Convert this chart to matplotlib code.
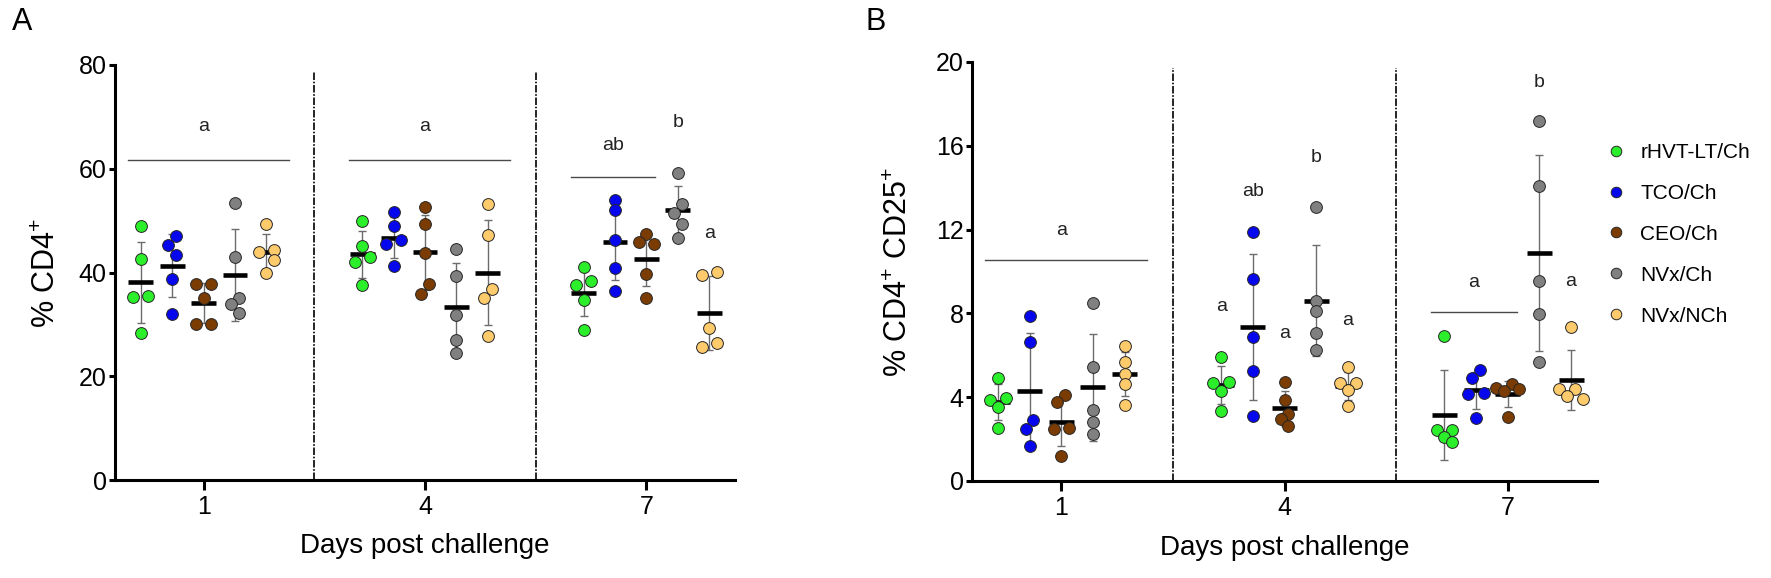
import numpy as np
import matplotlib
matplotlib.use("Agg")
import matplotlib.pyplot as plt
from matplotlib.lines import Line2D

plt.rcParams['font.family'] = ['Liberation Sans', 'DejaVu Sans']
plt.rcParams['mathtext.fontset'] = 'custom'
plt.rcParams['mathtext.rm'] = 'Liberation Sans'
plt.rcParams['mathtext.it'] = 'Liberation Sans:italic'
plt.rcParams['mathtext.bf'] = 'Liberation Sans:bold'
plt.rcParams['mathtext.default'] = 'regular'

# ---------------- data ----------------
days = ["1", "4", "7"]
groups = ["rHVT-LT/Ch", "TCO/Ch", "CEO/Ch", "NVx/Ch", "NVx/NCh"]
colors = ["#2bef2b", "#0707ee", "#7a3c02", "#808080", "#fdca6c"]

# Panel A: % CD4+  (per group, per day: 5 birds)
cd4_rhvt = [[48.9, 42.6, 35.5, 35.2, 28.4], [49.9, 45.2, 42.9, 42.1, 37.5], [41.0, 38.3, 37.6, 34.7, 29.0]]
cd4_tco  = [[47.1, 45.3, 43.4, 38.8, 32.0], [51.7, 49.0, 46.3, 45.5, 41.2], [53.9, 52.0, 46.3, 40.9, 36.5]]
cd4_ceo  = [[37.8, 37.8, 35.0, 30.0, 30.0], [52.6, 49.4, 43.7, 37.7, 35.9], [47.4, 45.8, 45.4, 39.7, 35.0]]
cd4_nvx  = [[53.4, 43.0, 35.0, 33.9, 32.1], [44.5, 39.4, 31.8, 27.0, 24.5], [59.1, 53.3, 51.5, 49.3, 46.7]]
cd4_nch  = [[49.4, 44.4, 43.9, 42.5, 40.0], [53.2, 47.2, 36.8, 35.0, 27.8], [40.1, 39.5, 29.3, 26.5, 25.6]]

# Panel B: % CD4+ CD25+
cd25_rhvt = [[4.90, 3.94, 3.86, 3.54, 2.51], [5.90, 4.73, 4.68, 4.29, 3.35], [6.94, 2.43, 2.43, 2.11, 1.84]]
cd25_tco  = [[7.86, 6.63, 2.90, 2.46, 1.67], [11.87, 9.62, 6.89, 5.24, 3.11], [5.32, 4.92, 4.22, 4.17, 3.00]]
cd25_ceo  = [[4.10, 3.78, 2.51, 2.46, 1.20], [4.73, 3.86, 3.22, 2.94, 2.63], [4.65, 4.44, 4.37, 4.30, 3.06]]
cd25_nvx  = [[8.48, 5.44, 3.38, 2.83, 2.22], [13.06, 8.57, 8.10, 7.08, 6.24], [17.16, 14.06, 9.54, 7.97, 5.68]]
cd25_nch  = [[6.43, 5.68, 5.13, 4.62, 3.65], [5.44, 4.70, 4.70, 4.32, 3.59], [7.33, 4.41, 4.41, 4.05, 3.90]]

# significance letters: spanning lines (day, first group, last group, line y, text y, label)
A_spans = [(0, 0, 4, 61.7, 68.1, "a"), (1, 0, 4, 61.7, 68.1, "a"), (2, 0, 2, 58.5, 64.4, "ab")]
A_single = [(2, 3, 69.0, "b"), (2, 4, 47.5, "a")]
B_spans = [(0, 0, 4, 10.56, 11.95, "a"), (2, 0, 2, 8.08, 9.46, "a")]
B_single = [(1, 0, 8.35, "a"), (1, 1, 13.81, "ab"), (1, 2, 7.03, "a"), (1, 3, 15.46, "b"),
            (1, 4, 7.67, "a"), (2, 3, 19.03, "b"), (2, 4, 9.54, "a")]

# ---------------- figure ----------------
W, H = 1771, 578
fig = plt.figure(figsize=(W / 100, H / 100), dpi=100)

def px_axes(l, r, t, b):
    return fig.add_axes([l / W, 1 - b / H, (r - l) / W, (b - t) / H])

axA = px_axes(115, 735, 65, 480)
axB = px_axes(972, 1597, 62, 481)

GS = 0.1418        # group spacing (day units)
XL = (-0.4, 2.4)


def swarm(vals, ax, h_px=7.7, thr=9.5, d=11.5):
    px_x = ax.bbox.width / (XL[1] - XL[0])
    y0, y1 = ax.get_ylim()
    px_y = ax.bbox.height / (y1 - y0)
    vals = np.asarray(vals, float)
    order = np.argsort(-vals)
    offs = np.zeros(len(vals))
    placed = []
    for i in order:
        y = vals[i] * px_y
        best, best_d = 0.0, -1.0
        for k in [0, -1, 1, -2, 2]:
            x = k * h_px
            md = min([np.hypot(x - a, y - b) for a, b in placed], default=1e9)
            if md >= thr:
                best = x
                break
            if md > best_d + 1e-9:
                best, best_d = x, md
        placed.append((best, y))
        offs[i] = best
    # recentre vertical clusters
    idx = list(order)
    clusters = [[idx[0]]]
    for j in idx[1:]:
        if (vals[clusters[-1][-1]] - vals[j]) * px_y < d:
            clusters[-1].append(j)
        else:
            clusters.append([j])
    for c in clusters:
        if len(c) > 1:
            sh = -(offs[c].min() + offs[c].max()) / 2
            offs[c] += sh
    return offs / px_x


def panel(ax, series, ylim, yticks, ylabel, spans, singles, ylab_x):
    ax.set_xlim(*XL)
    ax.set_ylim(*ylim)
    for g, data in enumerate(series):
        for d, vals in enumerate(data):
            xc = d + (g - 2) * GS
            vals = np.asarray(vals)
            m = vals.mean()
            sd = vals.std(ddof=1)
            ax.errorbar([xc], [m], yerr=[sd], fmt='none', ecolor='#6c6c6c',
                        elinewidth=1.0, capsize=2.6, capthick=1.0, zorder=2)
            ax.hlines(m, xc - 0.056, xc + 0.056, colors='k', lw=3.3, zorder=3,
                      capstyle='butt')
            xo = swarm(vals, ax)
            ax.scatter(xc + xo, vals, s=72, c=colors[g], edgecolors='#262626',
                       linewidths=0.7, zorder=4, clip_on=False)
    for sx in (0.5, 1.5):
        ax.axvline(sx, ymin=0, ymax=0.985, color='k', lw=1.2,
                   ls=(0, (4.5, 1.0, 1.0, 1.0)), zorder=1)
    for d, g0, g1, yl, yt, lab in spans:
        x0 = d + (g0 - 2) * GS - 0.058
        x1 = d + (g1 - 2) * GS + (0.10 if g1 == 4 else 0.04)
        ax.plot([x0, x1], [yl, yl], color='#4a4a4a', lw=1.0, zorder=2)
        ax.text((x0 + x1) / 2 if g1 != 4 else d, yt, lab, ha='center', va='center',
                fontsize=14, color='#222222')
    for d, g, yt, lab in singles:
        ax.text(d + (g - 2) * GS, yt, lab, ha='center', va='center',
                fontsize=14, color='#222222')
    ax.set_xticks(range(len(days)))
    ax.set_xticklabels(days)
    ax.set_yticks(yticks)
    for s in ('top', 'right'):
        ax.spines[s].set_visible(False)
    for s in ('left', 'bottom'):
        ax.spines[s].set_linewidth(2.2)
    ax.tick_params(axis='y', length=4, width=2.2, labelsize=18, pad=2)
    ax.tick_params(axis='x', length=7, width=2.2, labelsize=18, pad=4)
    ax.set_xlabel("Days post challenge", fontsize=20)
    ax.xaxis.set_label_coords(0.5, -0.128)
    ax.set_ylabel(ylabel, fontsize=22)
    ax.yaxis.set_label_coords(ylab_x, 0.5)


panel(axA, [cd4_rhvt, cd4_tco, cd4_ceo, cd4_nvx, cd4_nch], (0, 80), [0, 20, 40, 60, 80],
      r"% CD4$^{+}$", A_spans, A_single, -0.085)
panel(axB, [cd25_rhvt, cd25_tco, cd25_ceo, cd25_nvx, cd25_nch], (0, 20), [0, 4, 8, 12, 16, 20],
      r"% CD4$^{+}$ CD25$^{+}$", B_spans, B_single, -0.092)

fig.text(22 / W, 1 - 22 / H, "A", ha='center', va='center', fontsize=22)
fig.text(876 / W, 1 - 22 / H, "B", ha='center', va='center', fontsize=22)

handles = [Line2D([], [], marker='o', ls='', markerfacecolor=c, markeredgecolor='#262626',
                  markeredgewidth=0.7, markersize=7.6) for c in colors]
fig.legend(handles, groups, loc='upper left', bbox_to_anchor=(1606 / W, 1 - 143 / H),
           frameon=False, fontsize=15, handlelength=1.0, handletextpad=0.65,
           labelspacing=1.05, borderpad=0, borderaxespad=0)

fig.savefig("out.png", dpi=100)
